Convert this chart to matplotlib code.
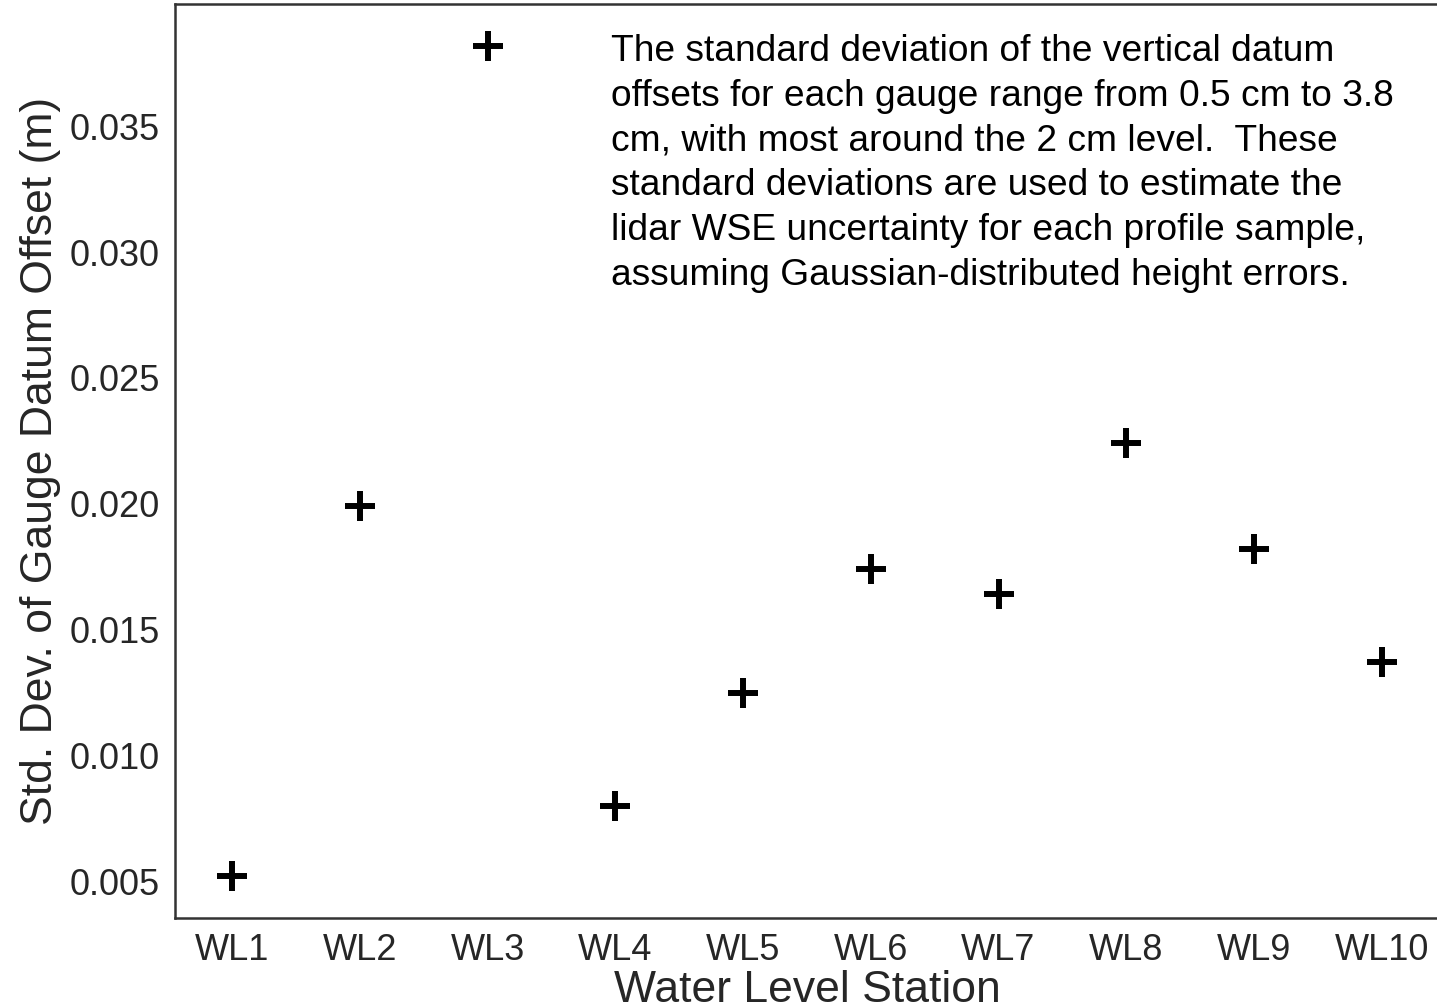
import matplotlib
matplotlib.use("Agg")
from matplotlib import pyplot
import numpy as np

stations = ["WL1", "WL2", "WL3", "WL4", "WL5", "WL6", "WL7", "WL8", "WL9", "WL10"]
std_offset = [0.0052, 0.0199, 0.0382, 0.0080, 0.0125, 0.0174, 0.0164, 0.0224, 0.0182, 0.0137]

note = ("The standard deviation of the vertical datum\n"
        "offsets for each gauge range from 0.5 cm to 3.8\n"
        "cm, with most around the 2 cm level.  These\n"
        "standard deviations are used to estimate the\n"
        "lidar WSE uncertainty for each profile sample,\n"
        "assuming Gaussian-distributed height errors.")

pyplot.rcParams["font.family"] = ["Liberation Sans", "DejaVu Sans"]
gray = "#262626"

fig = pyplot.figure(figsize=(14.37, 10.08), dpi=100)
W, H = 1437, 1008
ax = fig.add_axes([175 / W, (H - 918) / H, (1439 - 175) / W, (918 - 4) / H])

x = np.arange(len(stations))
ax.plot(x, std_offset, linestyle="none", marker="+", color="black",
        markersize=21.5, markeredgewidth=4.3)

ax.margins(x=0.05, y=0.05)
ax.set_xticks(x, stations)
ax.set_yticks([0.005, 0.010, 0.015, 0.020, 0.025, 0.030, 0.035])
ax.yaxis.set_major_formatter(matplotlib.ticker.FormatStrFormatter("%.3f"))
ax.tick_params(length=0, labelsize=26, colors=gray, pad=11)
for s in ax.spines.values():
    s.set_color("#333333")
    s.set_linewidth(1.8)

ax.set_xlabel("Water Level Station", fontsize=32, color=gray, labelpad=1)
ax.set_ylabel("Std. Dev. of Gauge Datum Offset (m)", fontsize=32, color=gray, labelpad=6)

fig.text(611 / W, 1 - 34 / H, note, fontsize=26.7, color="black", va="top", ha="left",
         linespacing=1.36)

fig.savefig("out.png", dpi=100)
